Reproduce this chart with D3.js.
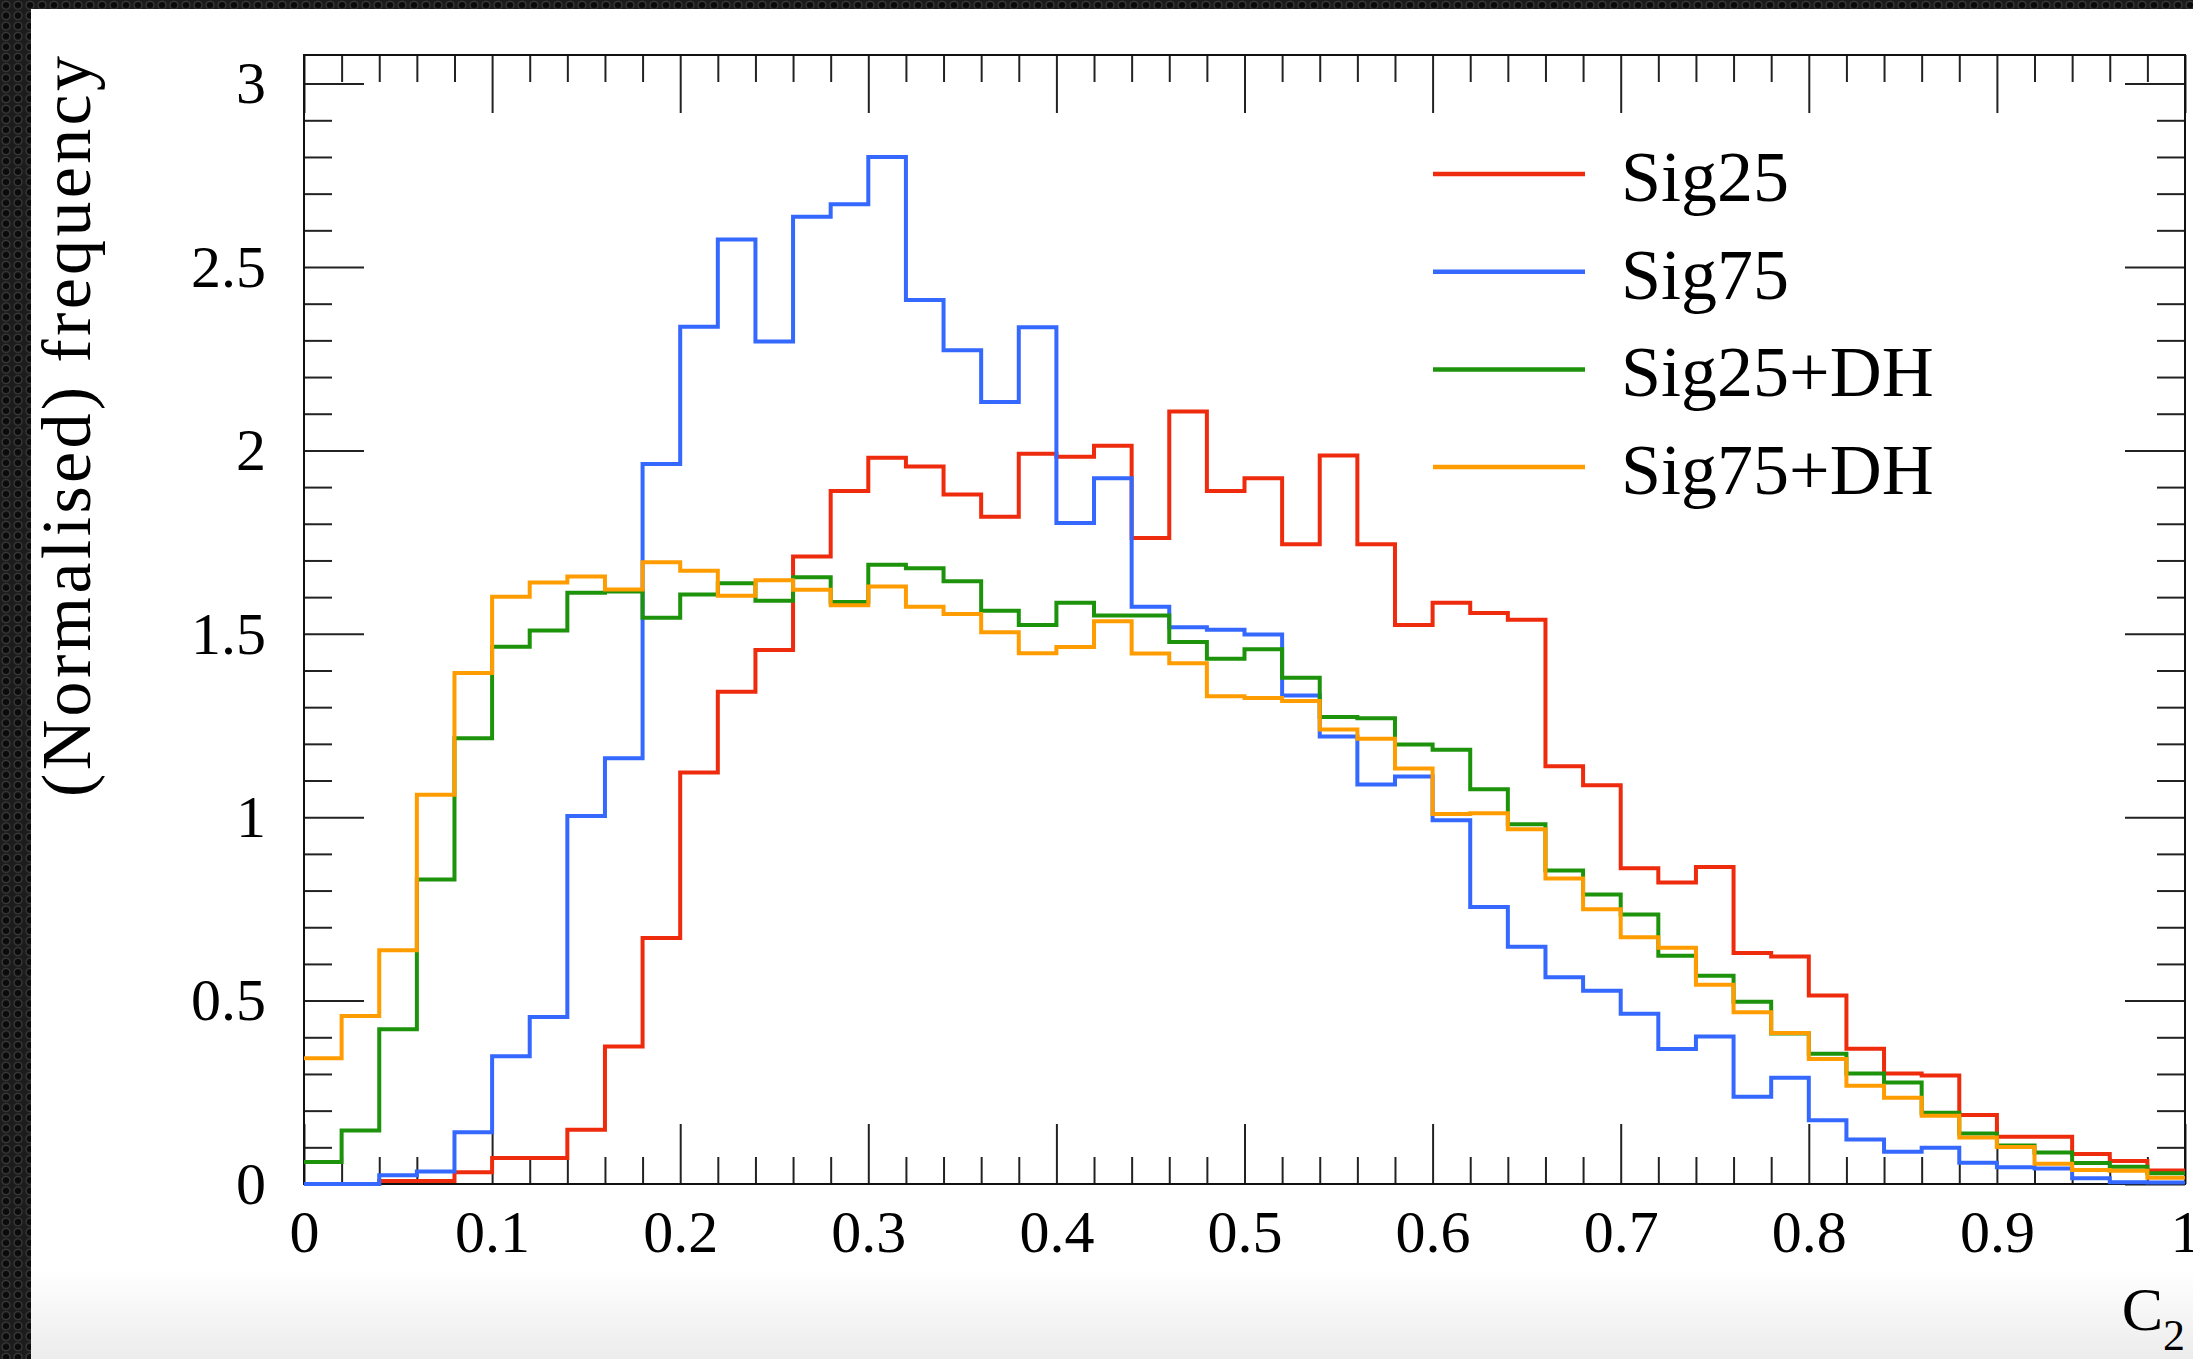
<!DOCTYPE html>
<html>
<head>
<meta charset="utf-8">
<script src="https://cdn.jsdelivr.net/npm/d3@7"></script>
<style>
html, body { margin: 0; padding: 0; background: #fff; overflow: hidden; }
svg { display: block; }
</style>
</head>
<body>
<svg id="chart" width="2193" height="1359"></svg>
<script>
// bin contents, 50 bins of width 0.02 from 0 to 1
var sig25 = [0, 0, 0.008, 0.008, 0.032, 0.071, 0.071, 0.148, 0.375, 0.671,
    1.122, 1.342, 1.456, 1.711, 1.889, 1.980, 1.956, 1.880, 1.819, 1.991,
    1.983, 2.013, 1.761, 2.106, 1.889, 1.924, 1.744, 1.986, 1.744, 1.524,
    1.585, 1.557, 1.538, 1.139, 1.087, 0.861, 0.822, 0.864, 0.630, 0.620,
    0.514, 0.369, 0.301, 0.296, 0.188, 0.129, 0.129, 0.082, 0.063, 0.037];
var sig75 = [0, 0, 0.024, 0.034, 0.141, 0.348, 0.455, 1.003, 1.161, 1.963,
    2.337, 2.575, 2.297, 2.637, 2.671, 2.800, 2.410, 2.273, 2.132, 2.336,
    1.802, 1.924, 1.574, 1.518, 1.511, 1.498, 1.332, 1.220, 1.089, 1.111,
    0.992, 0.755, 0.647, 0.564, 0.527, 0.464, 0.368, 0.402, 0.238, 0.290,
    0.174, 0.121, 0.088, 0.099, 0.058, 0.046, 0.042, 0.016, 0.005, 0.004];
var sig25dh = [0.060, 0.146, 0.422, 0.830, 1.215, 1.465, 1.509, 1.612, 1.615, 1.544,
    1.607, 1.638, 1.590, 1.654, 1.587, 1.688, 1.679, 1.643, 1.563, 1.524,
    1.585, 1.550, 1.550, 1.478, 1.432, 1.458, 1.380, 1.273, 1.270, 1.198,
    1.184, 1.076, 0.981, 0.855, 0.789, 0.735, 0.622, 0.568, 0.497, 0.410,
    0.355, 0.301, 0.277, 0.194, 0.138, 0.105, 0.086, 0.057, 0.047, 0.029];
var sig75dh = [0.343, 0.458, 0.637, 1.061, 1.393, 1.601, 1.640, 1.656, 1.621, 1.695,
    1.672, 1.604, 1.646, 1.620, 1.578, 1.629, 1.574, 1.554, 1.504, 1.447,
    1.464, 1.534, 1.446, 1.420, 1.330, 1.325, 1.317, 1.239, 1.214, 1.133,
    1.009, 1.011, 0.967, 0.833, 0.749, 0.673, 0.644, 0.543, 0.468, 0.412,
    0.341, 0.268, 0.235, 0.186, 0.127, 0.101, 0.055, 0.038, 0.036, 0.017];

var seriesNames = ["Sig25", "Sig75", "Sig25+DH", "Sig75+DH"];
var seriesValues = [sig25, sig75, sig25dh, sig75dh];
var seriesColors = ["#ee2b0c", "#3468ff", "#1c930a", "#ff9c00"];

var yTickValues = [0, 0.5, 1, 1.5, 2, 2.5, 3];
var yTickLabels = ["0", "0.5", "1", "1.5", "2", "2.5", "3"];
var xTickValues = [0, 0.1, 0.2, 0.3, 0.4, 0.5, 0.6, 0.7, 0.8, 0.9, 1];
var xTickLabels = ["0", "0.1", "0.2", "0.3", "0.4", "0.5", "0.6", "0.7", "0.8", "0.9", "1"];
var yTitle = "(Normalised) frequency";
var xTitle = "C";
var xTitleSub = "2";

var W = 2193, H = 1359;
var plotL = 304, plotR = 2185, plotT = 55, plotB = 1184;
var font = "Liberation Serif, DejaVu Serif, serif";

var svg = d3.select("#chart");
var defs = svg.append("defs");

// dark mesh border of the slide
var pat = defs.append("pattern")
    .attr("id", "mesh")
    .attr("width", 12)
    .attr("height", 10.4)
    .attr("patternUnits", "userSpaceOnUse");
pat.append("rect").attr("width", 12).attr("height", 10.4).attr("fill", "#1c1c1c");
pat.append("circle")
    .attr("cx", 6).attr("cy", 5.2).attr("r", 4)
    .attr("fill", "#0b0b0b")
    .attr("stroke", "#3c3c3c")
    .attr("stroke-width", 1.2);
svg.append("rect").attr("width", W).attr("height", H).attr("fill", "url(#mesh)");

var grad = defs.append("linearGradient")
    .attr("id", "fade")
    .attr("x1", 0).attr("y1", 0).attr("x2", 0).attr("y2", 1);
grad.append("stop").attr("offset", "0%").attr("stop-color", "#ffffff");
grad.append("stop").attr("offset", "100%").attr("stop-color", "#ececec");
svg.append("rect").attr("x", 31).attr("y", 9).attr("width", W - 31).attr("height", H - 9).attr("fill", "#fff");
svg.append("rect").attr("x", 31).attr("y", 1270).attr("width", W - 31).attr("height", H - 1270).attr("fill", "url(#fade)");

var x = d3.scaleLinear().domain([0, 1]).range([plotL, plotR]);
var y = d3.scaleLinear().domain([0, 3.078]).range([plotB, plotT]);

var yMinor = d3.range(31).map(function(i){ return i / 10; })
    .filter(function(v){ return yTickValues.indexOf(v) < 0; });
var xMinor = d3.range(51).filter(function(i){ return i % 5 != 0; })
    .map(function(i){ return i / 50; });

function styleAxis(g){
    g.select(".domain").remove();
    g.attr("font-family", font).attr("font-size", 60);
    g.selectAll("line").attr("stroke", "#222").attr("stroke-width", 2);
    g.selectAll("text").attr("fill", "#000");
}

// left and right axes
svg.append("g")
    .attr("transform", "translate(" + plotL + ",0)")
    .call(d3.axisLeft(y).tickValues(yTickValues).tickSize(-60).tickPadding(38)
        .tickFormat(function(d, i){ return yTickLabels[i]; }))
    .call(styleAxis);
svg.append("g")
    .attr("transform", "translate(" + plotL + ",0)")
    .call(d3.axisLeft(y).tickValues(yMinor).tickSize(-28).tickFormat(""))
    .call(styleAxis);
svg.append("g")
    .attr("transform", "translate(" + plotR + ",0)")
    .call(d3.axisRight(y).tickValues(yTickValues).tickSize(-60).tickFormat(""))
    .call(styleAxis);
svg.append("g")
    .attr("transform", "translate(" + plotR + ",0)")
    .call(d3.axisRight(y).tickValues(yMinor).tickSize(-28).tickFormat(""))
    .call(styleAxis);

// bottom and top axes
svg.append("g")
    .attr("transform", "translate(0," + plotB + ")")
    .call(d3.axisBottom(x).tickValues(xTickValues).tickSize(-60).tickPadding(25)
        .tickFormat(function(d, i){ return xTickLabels[i]; }))
    .call(styleAxis);
svg.append("g")
    .attr("transform", "translate(0," + plotB + ")")
    .call(d3.axisBottom(x).tickValues(xMinor).tickSize(-27).tickFormat(""))
    .call(styleAxis);
svg.append("g")
    .attr("transform", "translate(0," + plotT + ")")
    .call(d3.axisTop(x).tickValues(xTickValues).tickSize(-58).tickFormat(""))
    .call(styleAxis);
svg.append("g")
    .attr("transform", "translate(0," + plotT + ")")
    .call(d3.axisTop(x).tickValues(xMinor).tickSize(-27).tickFormat(""))
    .call(styleAxis);

svg.append("rect")
    .attr("x", plotL).attr("y", plotT)
    .attr("width", plotR - plotL).attr("height", plotB - plotT)
    .attr("fill", "none")
    .attr("stroke", "#111")
    .attr("stroke-width", 2);

// histograms
var edges = d3.range(51).map(function(i){ return i / 50; });
var line = d3.line()
    .x(function(d){ return x(d[0]); })
    .y(function(d){ return y(d[1]); })
    .curve(d3.curveStepAfter);

seriesValues.forEach(function(vals, k){
    var pts = vals.map(function(v, i){ return [edges[i], v]; });
    pts.push([edges[vals.length], vals[vals.length - 1]]);
    svg.append("path")
        .attr("d", line(pts))
        .attr("fill", "none")
        .attr("stroke", seriesColors[k])
        .attr("stroke-width", 4)
        .attr("stroke-linejoin", "miter");
});

// legend
var legend = svg.append("g").attr("font-family", font).attr("font-size", 72);
seriesNames.forEach(function(name, i){
    var ly = 174 + i * 97.7;
    legend.append("line")
        .attr("x1", 1433).attr("x2", 1585)
        .attr("y1", ly).attr("y2", ly)
        .attr("stroke", seriesColors[i])
        .attr("stroke-width", 4.5);
    legend.append("text")
        .attr("x", 1621).attr("y", ly + 27)
        .attr("fill", "#000")
        .text(name);
});

// axis titles
svg.append("text")
    .attr("transform", "translate(90,56) rotate(-90)")
    .attr("text-anchor", "end")
    .attr("font-family", font)
    .attr("font-size", 70)
    .attr("textLength", 741)
    .attr("lengthAdjust", "spacing")
    .attr("fill", "#000")
    .text(yTitle);

var xt = svg.append("text")
    .attr("x", plotR).attr("y", 1330)
    .attr("text-anchor", "end")
    .attr("font-family", font)
    .attr("fill", "#000");
xt.append("tspan").attr("font-size", 62).text(xTitle);
xt.append("tspan").attr("font-size", 44).attr("dy", 20).text(xTitleSub);
</script>
</body>
</html>
